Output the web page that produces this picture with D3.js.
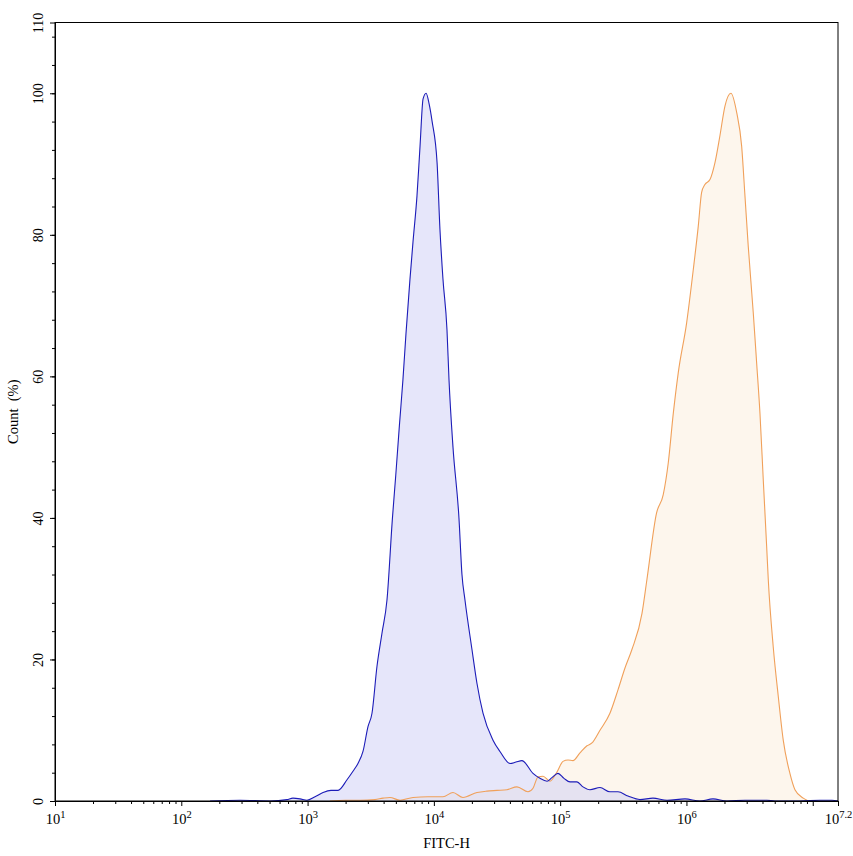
<!DOCTYPE html>
<html>
<head>
<meta charset="utf-8">
<script src="https://cdnjs.cloudflare.com/ajax/libs/d3/7.8.5/d3.min.js"></script>
<style>
  body { margin: 0; background: #fff; }
  svg { display: block; }
  text { font-family: "Liberation Serif", "Times New Roman", serif; }
</style>
</head>
<body>
<svg id="chart" width="853" height="856"></svg>
<script>
// FITC-H intensity (linear units) and count (%) for the two histograms
var blueFITC = [169, 292, 504, 687, 766, 871, 989, 1145, 1325, 1532, 1742, 2052, 2288, 2506, 2746,
  3008, 3236, 3543, 3882, 4253, 4699, 4990, 5331, 5688, 6012, 6466, 6835, 7350, 7769, 8212, 8678,
  9170, 9690, 10600, 11170, 11810, 12700, 13180, 14170, 15800, 16690, 17630, 20030, 21950, 24490,
  29390, 33370, 40070, 44690, 49860, 60940, 69180, 78700, 86100, 96100, 107200, 119700, 135900,
  151600, 172300, 206700, 247800, 287000, 344300, 428600, 543100, 701600, 973700, 1280000, 1622000,
  2094000, 2906000, 4337000, 5020000, 8000000, 11400000, 14200000, 15849000];
var blueCount = [0, 0.1, 0, 0.2, 0.4, 0.3, 0.1, 0.6, 1.2, 1.5, 1.5, 3.0, 4.2, 5.3, 7.0,
  10.5, 12.4, 19, 23.7, 28.4, 40, 46, 53, 59.5, 66, 73.7, 79, 85.5, 92.5, 99.2, 100,
  98.5, 96, 90.2, 80.8, 73.7, 66.6, 59.5, 50, 40, 32, 28.4, 21.4, 16.6, 12.4,
  8.6, 7.0, 5.3, 5.5, 5.7, 3.9, 3.2, 2.8, 3.3, 3.9, 3.2, 2.7, 2.7,
  2.0, 1.6, 1.9, 1.3, 1.3, 0.7, 0.2, 0.4, 0.1, 0.3, 0, 0.3,
  0, 0.1, 0.1, 0, 0, 0.1, 0.1, 0];

var orangeFITC = [1503, 1977, 2600, 3420, 3956, 4490, 5394, 6835, 8985, 11810, 14170, 16990, 21950,
  26320, 31600, 37900, 45490, 55620, 60940, 66740, 73140, 83040, 94340, 105300, 115400, 126300,
  143500, 163000, 178600, 206700, 247800, 287000, 326000, 370000, 444600, 486500, 580000, 655000,
  718000, 787000, 861000, 1004000, 1133000, 1240000, 1319000, 1400000, 1535000, 1682000, 1841000,
  2018000, 2251000, 2498000, 2737000, 2906000, 3085000, 3381000, 3596000, 3820000, 4057000,
  4315000, 4445000, 4865000, 5333000, 5840000, 6596000, 7230000, 8414000, 9210000];
var orangeCount = [0, 0.1, 0.1, 0.2, 0.4, 0.5, 0.1, 0.5, 0.6, 0.6, 1.2, 0.5, 1.2,
  1.4, 1.5, 1.6, 2.0, 1.3, 1.8, 3.4, 3.5, 2.8, 4.1, 5.6, 5.8, 5.7,
  6.8, 7.8, 8.2, 10, 12.4, 15.7, 18.8, 21.4, 26.5, 31.3, 40.7, 43.3,
  47.8, 54.8, 60.5, 67.6, 75.1, 81.2, 86, 87.1, 87.8, 90.2, 94,
  98.2, 100, 97.3, 92.5, 85.5, 78.4, 69, 61.9, 54.8, 45.4,
  36, 31.3, 21.8, 14.8, 8.6, 3.9, 1.6, 0.4, 0];

var xMajorExp = [1, 2, 3, 4, 5, 6, 7, 7.2];
var xLabelExp = ["1", "2", "3", "4", "5", "6", "", "7.2"];
var yMajorTicks = [0, 20, 40, 60, 80, 100, 110];

var svg = d3.select("#chart"),
    margin = {left: 55, right: 15, top: 22.5, bottom: 55},
    width = 853 - margin.left - margin.right,
    height = 856 - margin.top - margin.bottom;

var g = svg.append("g").attr("transform", "translate(" + margin.left + "," + margin.top + ")");

var x = d3.scaleLog().domain([10, Math.pow(10, 7.2)]).range([0, width]);
var y = d3.scaleLinear().domain([0, 110]).range([height, 0]);

function toPoints(xs, ys) {
  return xs.map(function (v, i) { return [v, ys[i]]; });
}

var area = d3.area()
  .x(function (d) { return x(d[0]); })
  .y0(y(0))
  .y1(function (d) { return y(d[1]); })
  .curve(d3.curveMonotoneX);

var line = d3.line()
  .x(function (d) { return x(d[0]); })
  .y(function (d) { return y(d[1]); })
  .curve(d3.curveMonotoneX);

var blue = toPoints(blueFITC, blueCount),
    orange = toPoints(orangeFITC, orangeCount);

// fills first, then outlines, so both outlines stay visible
g.append("path").datum(orange).attr("d", area)
  .attr("fill", "#fbeddb").attr("fill-opacity", 0.5);
g.append("path").datum(blue).attr("d", area)
  .attr("fill", "#cdcdf5").attr("fill-opacity", 0.5);
g.append("path").datum(orange).attr("d", line)
  .attr("fill", "none").attr("stroke", "#f0a05a").attr("stroke-width", 1.1);
g.append("path").datum(blue).attr("d", line)
  .attr("fill", "none").attr("stroke", "#1c1cb8").attr("stroke-width", 1.1);

// frame
g.append("rect").attr("width", width).attr("height", height)
  .attr("fill", "none").attr("stroke", "#000").attr("stroke-width", 1);

// minor ticks
var xMinor = [];
for (var e = 1; e < 8; e++) {
  for (var m = 2; m <= 9; m++) {
    var v = m * Math.pow(10, e);
    if (v < Math.pow(10, 7.2)) xMinor.push(v);
  }
}
var yMinor = d3.range(0, 111, 4);

g.append("g").attr("transform", "translate(0," + height + ")")
  .call(d3.axisBottom(x).tickValues(xMinor).tickSize(3).tickFormat(""))
  .call(function (s) { s.select(".domain").remove(); });
g.append("g")
  .call(d3.axisLeft(y).tickValues(yMinor).tickSize(3).tickFormat(""))
  .call(function (s) { s.select(".domain").remove(); });

// major x axis with 10^n labels
var xAxis = g.append("g").attr("transform", "translate(0," + height + ")")
  .call(d3.axisBottom(x)
    .tickValues(xMajorExp.map(function (e) { return Math.pow(10, e); }))
    .tickSize(5).tickSizeOuter(0).tickFormat(""));
xAxis.selectAll(".tick text").each(function (d, i) {
  if (!xLabelExp[i]) return;
  var t = d3.select(this).attr("y", 23).attr("dy", 0)
    .attr("font-size", 14.5).attr("fill", "#000").attr("text-anchor", "middle");
  t.append("tspan").text("10");
  t.append("tspan").attr("dy", -6.5).attr("font-size", 10.5).text(xLabelExp[i]);
});

// major y axis, rotated labels
var yAxis = g.append("g")
  .call(d3.axisLeft(y).tickValues(yMajorTicks).tickSize(5).tickSizeOuter(0));
yAxis.selectAll(".tick text")
  .attr("transform", "rotate(-90)")
  .attr("x", 0).attr("y", -12).attr("dy", 0)
  .attr("text-anchor", "middle")
  .attr("font-size", 14).attr("fill", "#000");
svg.selectAll(".domain").attr("stroke", "#000");

// axis titles
svg.append("text")
  .attr("x", margin.left + width / 2).attr("y", 848)
  .attr("text-anchor", "middle").attr("font-size", 14.5)
  .text("FITC-H");
svg.append("text")
  .attr("transform", "translate(18," + (margin.top + height / 2) + ") rotate(-90)")
  .attr("text-anchor", "middle").attr("font-size", 14.5)
  .attr("xml:space", "preserve")
  .style("white-space", "pre")
  .text("Count  (%)");
</script>
</body>
</html>
